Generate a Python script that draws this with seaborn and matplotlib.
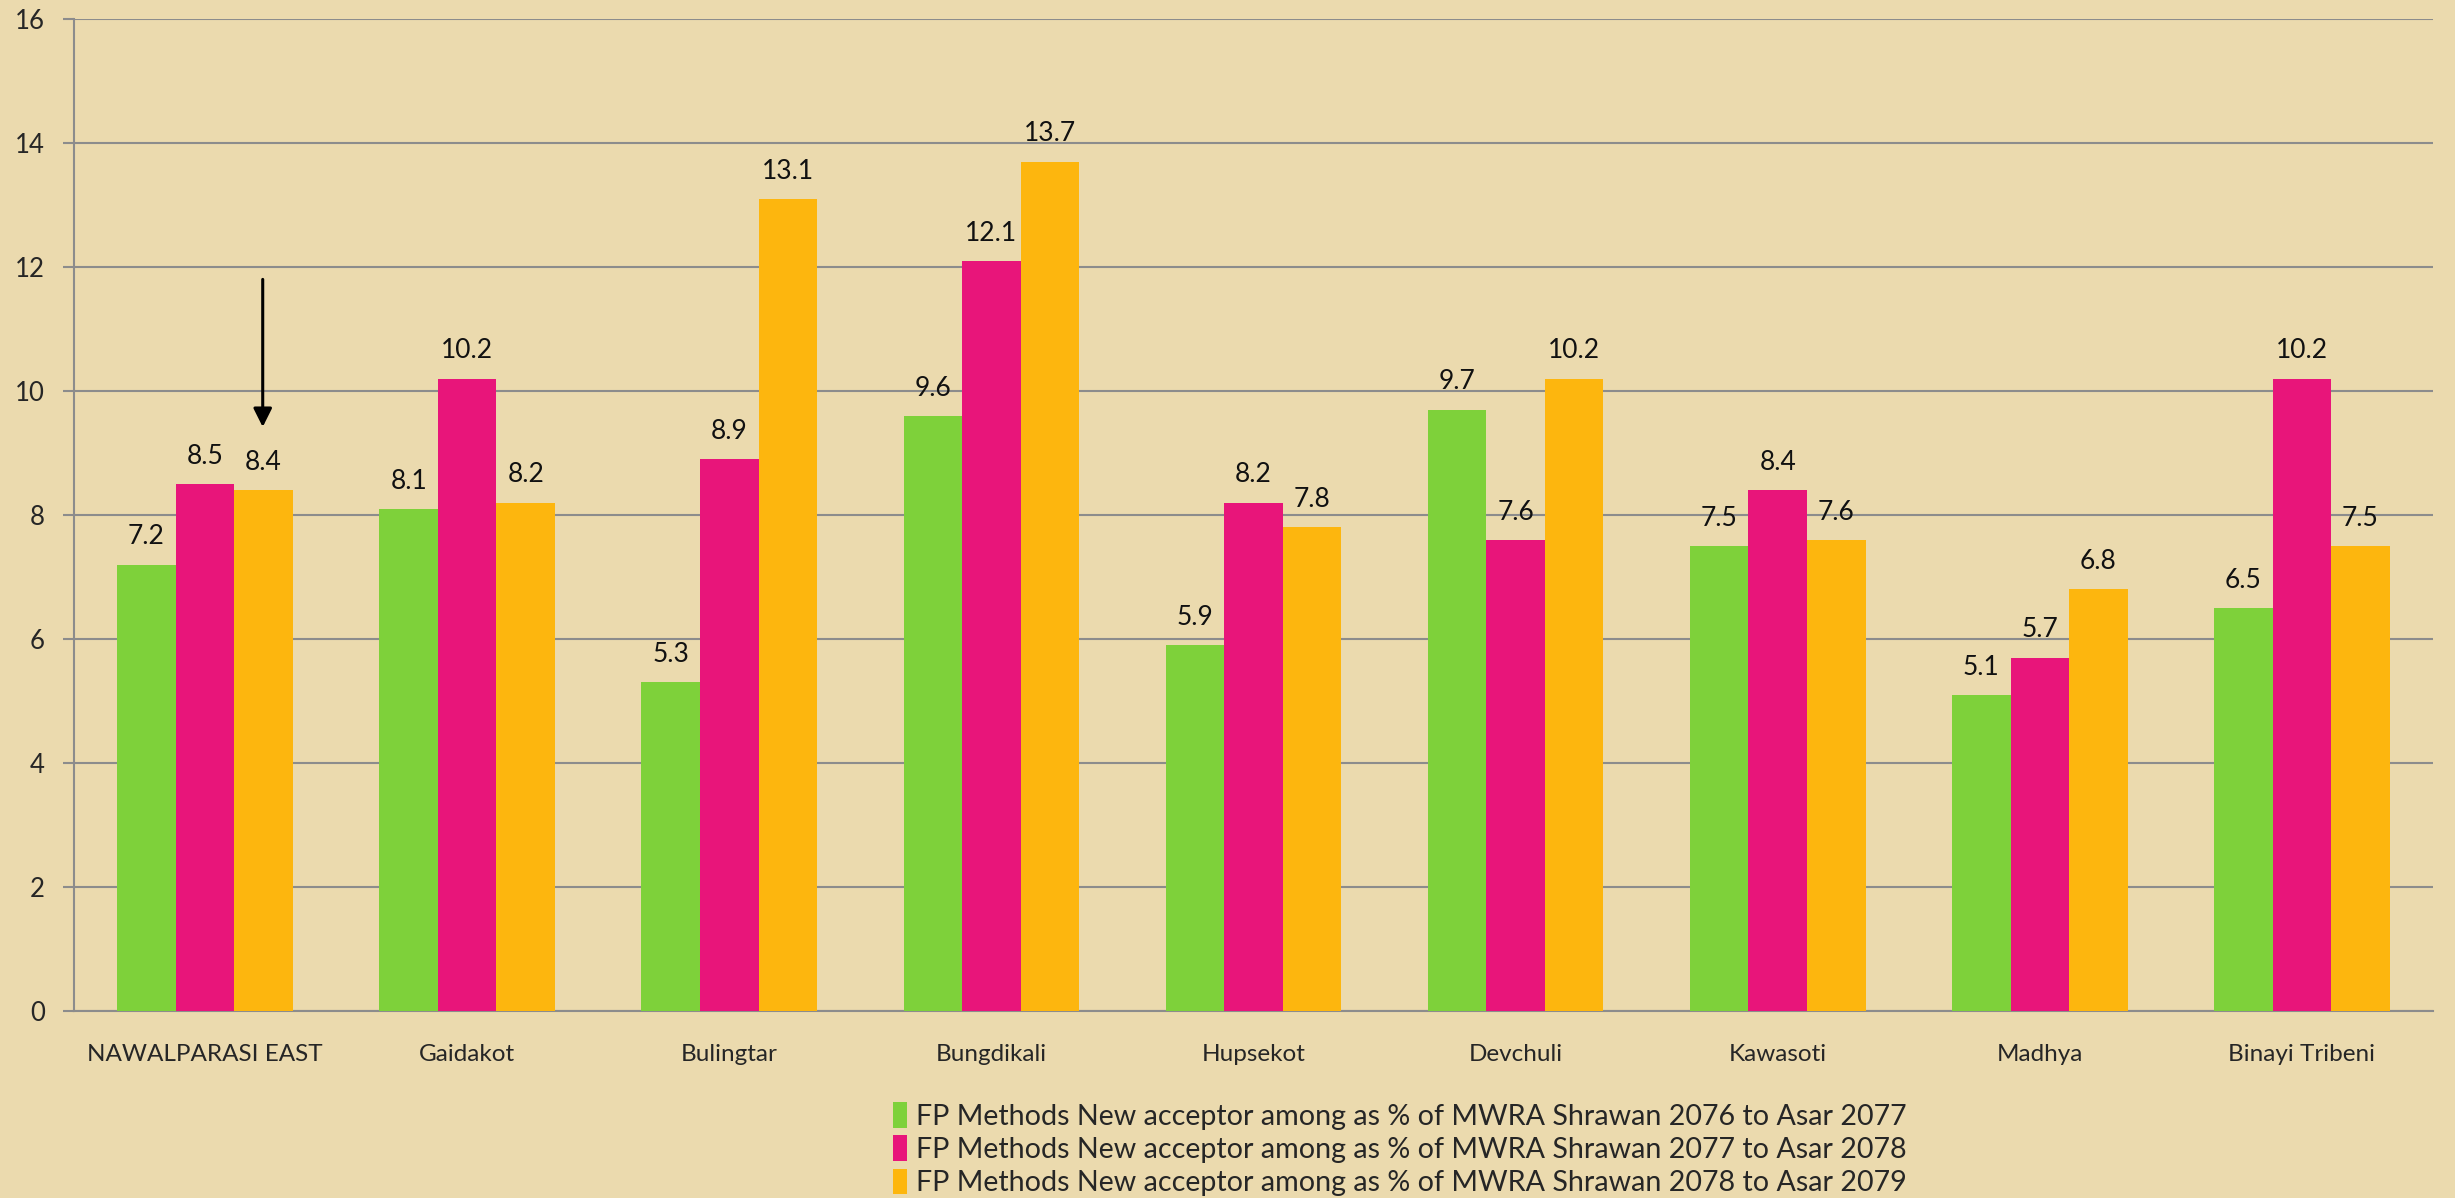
import matplotlib
matplotlib.use("Agg")
import matplotlib.pyplot as plt
import seaborn as sns
import pandas as pd
from matplotlib.patches import Patch

categories = ["NAWALPARASI EAST", "Gaidakot", "Bulingtar", "Bungdikali", "Hupsekot",
              "Devchuli", "Kawasoti", "Madhya", "Binayi Tribeni"]
series_names = [
    "FP Methods New acceptor among as % of MWRA Shrawan 2076 to Asar 2077",
    "FP Methods New acceptor among as % of MWRA Shrawan 2077 to Asar 2078",
    "FP Methods New acceptor among as % of MWRA Shrawan 2078 to Asar 2079",
]
values_2076 = [7.2, 8.1, 5.3, 9.6, 5.9, 9.7, 7.5, 5.1, 6.5]
values_2077 = [8.5, 10.2, 8.9, 12.1, 8.2, 7.6, 8.4, 5.7, 10.2]
values_2078 = [8.4, 8.2, 13.1, 13.7, 7.8, 10.2, 7.6, 6.8, 7.5]
y_ticks = [0, 2, 4, 6, 8, 10, 12, 14, 16]
colors = ["#7ED13A", "#E8157A", "#FDB60E"]

rows = []
for name, vals in zip(series_names, [values_2076, values_2077, values_2078]):
    for c, v in zip(categories, vals):
        rows.append({"category": c, "series": name, "value": v})
df = pd.DataFrame(rows)

sns.set_style("white")
font = ["Lato", "DejaVu Sans"]
plt.rcParams["font.family"] = font

bg = "#EBDAAE"
fig = plt.figure(figsize=(24.55, 11.98), dpi=100, facecolor=bg)
ax = fig.add_axes([74 / 2455, 1 - 1011 / 1198, (2433 - 74) / 2455, (1011 - 19) / 1198])
ax.set_facecolor(bg)

sns.barplot(data=df, x="category", y="value", hue="series", order=categories,
            hue_order=series_names, palette=colors, width=0.67, gap=0,
            saturation=1, dodge=True, legend=False, ax=ax, zorder=3,
            linewidth=0, edgecolor="none")

for cont in ax.containers:
    ax.bar_label(cont, labels=[f"{b.get_height():.1f}" for b in cont],
                 padding=11, fontsize=19, color="#111111")

ax.set_ylim(0, 16)
ax.set_xlim(-0.5, len(categories) - 0.5)
ax.set_yticks(y_ticks)
ax.set_yticklabels([str(t) for t in y_ticks], fontsize=18.5)
ax.set_xlabel("")
ax.set_ylabel("")
ax.tick_params(axis="x", which="major", length=0, pad=24, labelsize=17.5)
ax.set_xticks([i - 0.5 for i in range(len(categories) + 1)], minor=True)
ax.tick_params(axis="x", which="minor", length=8, width=1.5, color="#8C8C8C", direction="out")
ax.tick_params(axis="y", length=8, width=1.5, color="#8C8C8C", pad=13, left=True)
ax.grid(axis="y", color="#8C8C8C", linewidth=1.5, zorder=0)
ax.set_axisbelow(True)
for s in ["top", "right"]:
    ax.spines[s].set_visible(False)
for s in ["left", "bottom"]:
    ax.spines[s].set_color("#8C8C8C")
    ax.spines[s].set_linewidth(1.5)

# arrow annotation above NAWALPARASI EAST
ax.annotate("", xy=(0.22, 9.42), xytext=(0.22, 11.8),
            arrowprops=dict(arrowstyle="-|>", color="black", lw=2.2,
                            mutation_scale=28, shrinkA=0, shrinkB=0), zorder=5)

handles = [Patch(facecolor=c, edgecolor="none") for c in colors]
leg = fig.legend(handles, series_names, loc="upper left",
                 bbox_to_anchor=(893 / 2455, 1 - 1102 / 1198), frameon=False,
                 prop={"family": font, "size": 20.6}, handlelength=0.5, handleheight=1.0,
                 handletextpad=0.3, labelspacing=0.2, borderpad=0, borderaxespad=0)

fig.savefig("out.png", dpi=100, facecolor=bg)
